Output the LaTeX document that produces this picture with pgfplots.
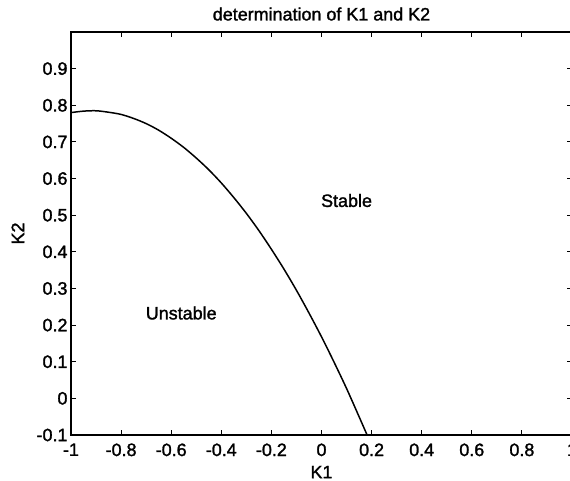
\documentclass[border=0pt]{standalone}
\usepackage{pgfplots}
\pgfplotsset{compat=1.18}
\usepackage{fontspec}
\setmainfont{Liberation Sans}[FakeBold=1.5]
\begin{document}
\begin{tikzpicture}
\begin{axis}[
  name=ax, at={(0,0)}, anchor=south west,
  scale only axis, width=501bp, height=403bp,
  xmin=-1, xmax=1, ymin=-0.1, ymax=1,
  xtick={-1,-0.8,-0.6,-0.4,-0.2,0,0.2,0.4,0.6,0.8,1},
  xticklabels={-1,-0.8,-0.6,-0.4,-0.2,0,0.2,0.4,0.6,0.8,1},
  ytick={-0.1,0,0.1,0.2,0.3,0.4,0.5,0.6,0.7,0.8,0.9},
  yticklabels={-0.1,0,0.1,0.2,0.3,0.4,0.5,0.6,0.7,0.8,0.9},
  tick align=inside, major tick length=5bp,
  tick style={line width=1pt, black},
  axis line style={line width=1.3pt},
  ticklabel style={font=\fontsize{18}{20}\selectfont},
  xticklabel style={yshift=-5bp},
  yticklabel style={xshift=0bp},
  label style={font=\fontsize{18}{20}\selectfont},
  title style={font=\fontsize{18}{20}\selectfont, at={(axis description cs:0.5,1)}, anchor=center, yshift=12bp},
  xlabel style={at={(axis description cs:0.5,-0.092)}, anchor=center},
  ylabel style={at={(axis description cs:-0.106,0.5)}, anchor=center},
  title={determination of K1 and K2},
  xlabel={K1}, ylabel={K2},
]
\addplot[black, line width=1.5pt, smooth, no marks] coordinates {
(-1,0.780) (-0.95,0.784) (-0.9,0.785) (-0.85,0.781) (-0.8,0.775)
(-0.75,0.764) (-0.7,0.750) (-0.65,0.732) (-0.6,0.710) (-0.55,0.685)
(-0.5,0.656) (-0.45,0.624) (-0.4,0.588) (-0.35,0.548) (-0.3,0.505)
(-0.25,0.458) (-0.2,0.407) (-0.15,0.353) (-0.1,0.295) (-0.05,0.233)
(0,0.168) (0.05,0.099) (0.1,0.027) (0.15,-0.050) (0.182,-0.1)
};
\node[font=\fontsize{18}{20}\selectfont] at (axis cs:0.1,0.54) {Stable};
\node[font=\fontsize{18}{20}\selectfont] at (axis cs:-0.56,0.233) {Unstable};
\end{axis}
\pgfresetboundingbox
\path[use as bounding box] ([xshift=-71bp,yshift=-46bp]ax.south west) rectangle ([xshift=-2bp,yshift=32bp]ax.north east);
\end{tikzpicture}
\end{document}
